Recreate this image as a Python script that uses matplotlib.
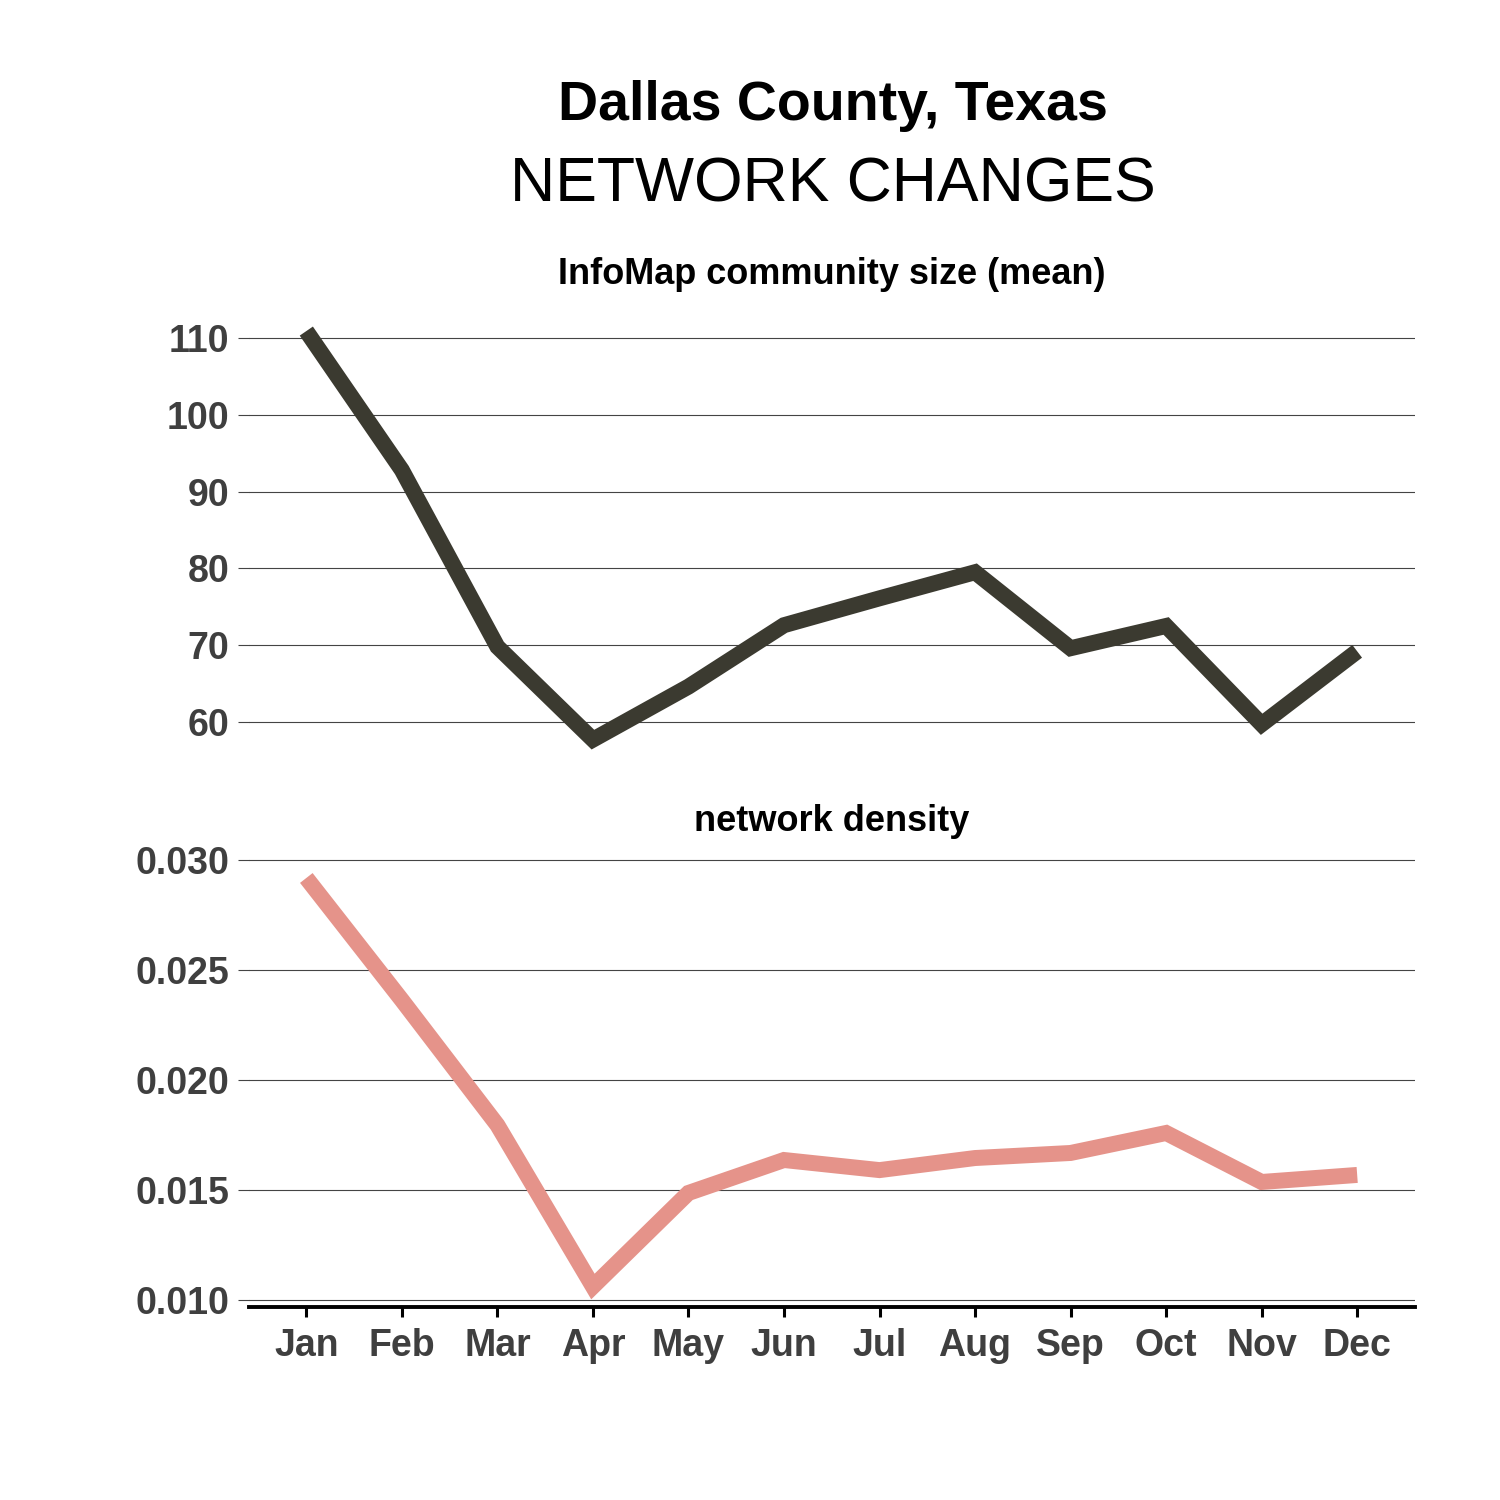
import numpy as np
import matplotlib
matplotlib.use('Agg')
import matplotlib.pyplot as plt

plt.rcParams['font.family'] = ['Liberation Sans', 'DejaVu Sans']

months = ['Jan', 'Feb', 'Mar', 'Apr', 'May', 'Jun',
          'Jul', 'Aug', 'Sep', 'Oct', 'Nov', 'Dec']
community_size = [110.9, 92.8, 69.8, 57.7, 64.6, 72.6,
                  76.1, 79.5, 69.6, 72.5, 59.7, 69.2]
density = [0.0292, 0.02364, 0.01795, 0.0106, 0.01486, 0.01636,
           0.0159, 0.01645, 0.01668, 0.01759, 0.01536, 0.01568]
size_ticks = [60, 70, 80, 90, 100, 110]
density_ticks = [0.010, 0.015, 0.020, 0.025, 0.030]

dark = '#3b3a30'
salmon = '#e5938a'
grey_txt = '#3f3f3f'

fig = plt.figure(figsize=(15, 15), dpi=100)
ax1 = fig.add_axes([0.166, 0.4933, 0.777, 0.2996])
ax2 = fig.add_axes([0.166, 0.1287, 0.777, 0.2996])

x = np.arange(len(months))


def style(ax, vals, ticks, fmt, title):
    lo, hi = min(vals), max(vals)
    pad = (hi - lo) * 0.05
    ax.set_ylim(lo - pad, hi + pad)
    ax.set_xlim(-0.6, len(months) - 0.4)
    ax.set_yticks(ticks)
    ax.set_yticklabels([fmt % t for t in ticks])
    ax.grid(axis='y', color='#444444', linewidth=0.8)
    ax.set_axisbelow(True)
    for s in ax.spines.values():
        s.set_visible(False)
    ax.tick_params(axis='y', length=8, width=0.8, color='#444444',
                   labelsize=27, labelcolor=grey_txt, pad=6)
    for lab in ax.get_yticklabels():
        lab.set_fontweight('bold')
    ax.set_title(title, fontsize=26, fontweight='bold', pad=19, x=0.5)


ax1.plot(x, community_size, color=dark, linewidth=11.5, solid_capstyle='butt',
         solid_joinstyle='miter')
style(ax1, community_size, size_ticks, '%d', 'InfoMap community size (mean)')
ax1.set_xticks([])

ax2.plot(x, density, color=salmon, linewidth=11.5, solid_capstyle='butt',
         solid_joinstyle='miter')
style(ax2, density, density_ticks, '%.3f', 'network density')
ax2.set_xticks(x)
ax2.set_xticklabels(months)
ax2.spines['bottom'].set_visible(True)
ax2.spines['bottom'].set_linewidth(2.8)
ax2.spines['bottom'].set_color('black')
ax2.tick_params(axis='x', length=7, width=2.2, color='black',
                labelsize=27, labelcolor=grey_txt, pad=8)
for lab in ax2.get_xticklabels():
    lab.set_fontweight('bold')

fig.text(0.555, 0.929, 'Dallas County, Texas', ha='center', va='center',
         fontsize=40, fontweight='bold')
fig.text(0.555, 0.877, 'NETWORK CHANGES', ha='center', va='center',
         fontsize=45)

fig.savefig('out.png', dpi=100)
